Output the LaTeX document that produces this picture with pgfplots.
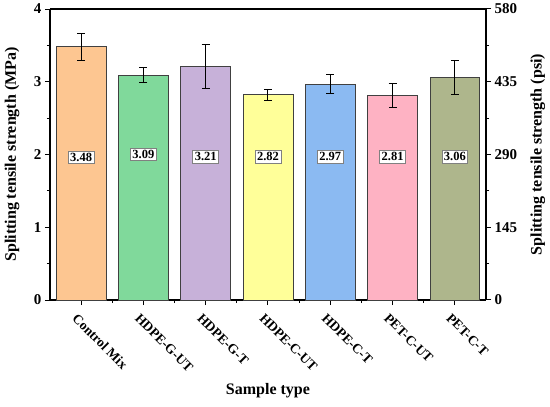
\documentclass[border=0pt]{standalone}
\usepackage{pgfplots}
\pgfplotsset{compat=1.18}
\usepackage{fontspec}
\setmainfont{Liberation Serif}
\definecolor{c1}{HTML}{FDC691}
\definecolor{c2}{HTML}{80D99B}
\definecolor{c3}{HTML}{C7B1D9}
\definecolor{c4}{HTML}{FFFF99}
\definecolor{c5}{HTML}{8BBAF2}
\definecolor{c6}{HTML}{FEB2C3}
\definecolor{c7}{HTML}{AEB68C}
\definecolor{edge}{HTML}{404040}
\pgfplotsset{
  errb/.style={error bars/.cd, y dir=both, y explicit, error bar style={line width=1pt,black}, error mark options={rotate=90, mark size=4pt, line width=1pt, black}},
}
\begin{document}
\begin{tikzpicture}[x=1pt,y=1pt]
\useasboundingbox (-50,-107) rectangle (500,300);
\begin{axis}[
  at={(0,0)}, anchor=south west,
  scale only axis, width=436pt, height=291pt,
  xmin=-0.5, xmax=6.5, ymin=0, ymax=4,
  axis y line*=left, axis x line*=bottom,
  axis line style={line width=1.2pt},
  xtick={0,...,6},
  xticklabels={Control Mix,HDPE-G-UT,HDPE-G-T,HDPE-C-UT,HDPE-C-T,PET-C-UT,PET-C-T},
  minor xtick={0.5,1.5,...,5.5},
  ytick={0,1,2,3,4}, minor ytick={0.5,1.5,2.5,3.5},
  tick align=outside, tick pos=left,
  major tick length=5pt, minor tick length=3pt,
  tick style={line width=1pt, black},
  xticklabel style={rotate=-45, anchor=north west, font=\bfseries\fontsize{13.5}{13.5}\selectfont, xshift=0pt, yshift=-4pt},
  yticklabel style={font=\bfseries\fontsize{15}{15}\selectfont},
  /pgf/number format/assume math mode=true,
  ylabel={\bfseries Splitting tensile strength (MPa)},
  ylabel style={font=\fontsize{16}{16}\selectfont, at={(axis description cs:-0.087,0.5)}, anchor=center, rotate=0},
  xlabel={\bfseries Sample type},
  xlabel style={font=\fontsize{16}{16}\selectfont, at={(axis description cs:0.5,-0.312)}, anchor=center},
  ybar, bar width=0.8, bar shift=0pt,
  clip=false,
]
\addplot[fill=c1, draw=edge, line width=0.8pt, errb] coordinates {(0,3.48) +- (0,0.19)};
\addplot[fill=c2, draw=edge, line width=0.8pt, errb] coordinates {(1,3.09) +- (0,0.10)};
\addplot[fill=c3, draw=edge, line width=0.8pt, errb] coordinates {(2,3.21) +- (0,0.30)};
\addplot[fill=c4, draw=edge, line width=0.8pt, errb] coordinates {(3,2.82) +- (0,0.08)};
\addplot[fill=c5, draw=edge, line width=0.8pt, errb] coordinates {(4,2.97) +- (0,0.13)};
\addplot[fill=c6, draw=edge, line width=0.8pt, errb] coordinates {(5,2.81) +- (0,0.17)};
\addplot[fill=c7, draw=edge, line width=0.8pt, errb] coordinates {(6,3.06) +- (0,0.23)};
\addplot[only marks, mark=none, nodes near coords, point meta=explicit symbolic,
  every node near coord/.style={font=\bfseries\fontsize{12.5}{12.5}\selectfont, fill=white, draw=gray, line width=0.6pt, inner sep=2pt, anchor=center}]
  coordinates {(0,1.96)[3.48] (1,2.0)[3.09] (2,1.97)[3.21] (3,1.97)[2.82] (4,1.97)[2.97] (5,1.97)[2.81] (6,1.97)[3.06]};
\draw[line width=1.2pt] (rel axis cs:0,1) -- (rel axis cs:1,1);
\end{axis}
\begin{axis}[
  at={(0,0)}, anchor=south west,
  scale only axis, width=436pt, height=291pt,
  xmin=-0.5, xmax=6.5, ymin=0, ymax=580,
  axis y line*=right, axis x line=none,
  axis line style={line width=1.2pt},
  ytick={0,145,290,435,580}, minor ytick={72.5,217.5,362.5,507.5},
  tick align=outside,
  major tick length=5pt, minor tick length=3pt,
  tick style={line width=1pt, black},
  yticklabel style={font=\bfseries\fontsize{15}{15}\selectfont},
  /pgf/number format/assume math mode=true,
  ylabel={\bfseries Splitting tensile strength (psi)},
  ylabel style={font=\fontsize{16}{16}\selectfont, at={(axis description cs:1.119,0.5)}, anchor=center},
]
\end{axis}
\end{tikzpicture}
\end{document}
